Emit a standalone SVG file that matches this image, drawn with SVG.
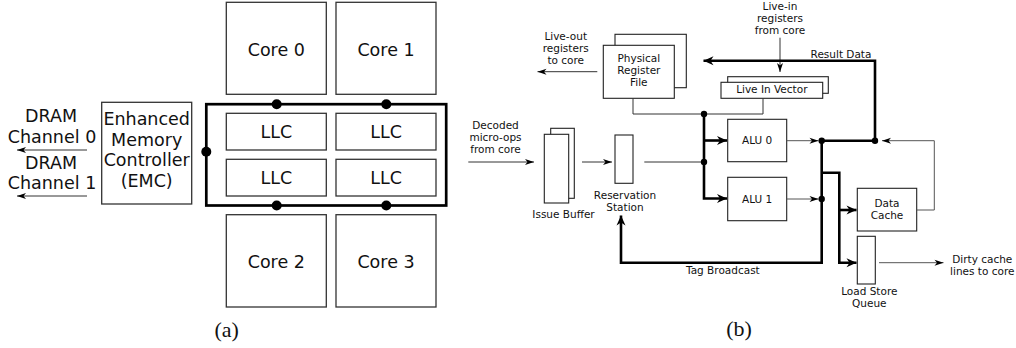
<svg xmlns="http://www.w3.org/2000/svg" width="1016" height="348" viewBox="0 0 1016 348">
<style>
  .box{fill:#fff;stroke:#333;stroke-width:1.3}
  .bbox{fill:#fff;stroke:#222;stroke-width:1.1}
  .ta{font-family:"DejaVu Sans",Verdana,sans-serif;font-size:17.5px;fill:#111;text-anchor:middle}
  .tb{font-family:"DejaVu Sans",Verdana,sans-serif;font-size:10.5px;fill:#111;text-anchor:middle}
  .cap{font-family:"Liberation Serif","Times New Roman",serif;font-size:22px;fill:#111;text-anchor:middle}
  .thin{fill:none;stroke:#333;stroke-width:1}
  .gray{fill:none;stroke:#555;stroke-width:1}
  .thick{fill:none;stroke:#000;stroke-width:2.6}
  .ring{fill:none;stroke:#000;stroke-width:2.7}
  .dot{fill:#000}
</style>
<defs>
  <marker id="ah" markerUnits="userSpaceOnUse" markerWidth="12" markerHeight="8" viewBox="-10 -4 11 8" refX="0" refY="0" orient="auto">
    <path d="M0,0 L-9,-3 L-6.5,0 L-9,3 Z" fill="#000"/>
  </marker>
  <marker id="ahk" markerUnits="userSpaceOnUse" markerWidth="13" markerHeight="10" viewBox="-11 -5 12 10" refX="0" refY="0" orient="auto">
    <path d="M0,0 L-10,-4.5 L-7,0 L-10,4.5 Z" fill="#000"/>
  </marker>
</defs>
<rect width="1016" height="348" fill="#fff"/>

<!-- (a) -->
<g id="core0"><rect class="box" x="226.3" y="2.3" width="100" height="92"/><text class="ta" x="276.3" y="56">Core 0</text></g>
<g id="core1"><rect class="box" x="336" y="2.3" width="100" height="92"/><text class="ta" x="386" y="56">Core 1</text></g>
<g id="llc00"><rect class="box" x="226.3" y="113.3" width="100" height="36.7"/><text class="ta" x="276.3" y="138">LLC</text></g>
<g id="llc01"><rect class="box" x="336" y="113.3" width="100" height="36.7"/><text class="ta" x="386" y="138">LLC</text></g>
<g id="llc10"><rect class="box" x="226.3" y="159.3" width="100" height="36.7"/><text class="ta" x="276.3" y="184">LLC</text></g>
<g id="llc11"><rect class="box" x="336" y="159.3" width="100" height="36.7"/><text class="ta" x="386" y="184">LLC</text></g>
<g id="core2"><rect class="box" x="226.3" y="214.7" width="100" height="92.3"/><text class="ta" x="276.3" y="268">Core 2</text></g>
<g id="core3"><rect class="box" x="336" y="214.7" width="100" height="92.3"/><text class="ta" x="386" y="268">Core 3</text></g>
<g id="emc"><rect class="box" x="101.7" y="102.3" width="90" height="101.7"/>
  <text class="ta" x="146.7" y="125">Enhanced</text>
  <text class="ta" x="146.7" y="145.5">Memory</text>
  <text class="ta" x="146.7" y="166">Controller</text>
  <text class="ta" x="146.7" y="186.5">(EMC)</text>
</g>
<g id="dram0"><text class="ta" x="51" y="122">DRAM</text><text class="ta" x="52" y="142.7">Channel 0</text></g>
<g id="dram1"><text class="ta" x="51" y="169">DRAM</text><text class="ta" x="52" y="189">Channel 1</text></g>
<g id="ring">
  <rect class="ring" x="206.3" y="104.2" width="239.9" height="101.3"/>
  <circle class="dot" cx="276.7" cy="104.2" r="5"/>
  <circle class="dot" cx="386.3" cy="104.2" r="5"/>
  <circle class="dot" cx="276.7" cy="205.5" r="5"/>
  <circle class="dot" cx="386.3" cy="205.5" r="5"/>
  <circle class="dot" cx="206.3" cy="151.7" r="5"/>
</g>
<g id="connectors-a">
  <path class="thin" d="M87,150 H17" marker-end="url(#ah)"/>
  <path class="thin" d="M87,196 H17" marker-end="url(#ah)"/>
</g>
<text class="cap" x="226.7" y="337">(a)</text>

<!-- (b) -->
<g id="prf">
  <rect class="bbox" x="615" y="34.3" width="71.3" height="53.4"/>
  <rect class="bbox" x="603.3" y="45.3" width="71" height="53"/>
  <text class="tb" x="638.8" y="61.7">Physical</text>
  <text class="tb" x="638.8" y="73.7">Register</text>
  <text class="tb" x="638.8" y="85.5">File</text>
</g>
<g id="liv">
  <rect class="bbox" x="727.7" y="76.7" width="100.6" height="16.6"/>
  <rect class="bbox" x="721" y="82.3" width="101.7" height="16"/>
  <text class="tb" x="771.8" y="92.7">Live In Vector</text>
</g>
<g id="ib">
  <rect class="bbox" x="550.7" y="128.3" width="23.6" height="70"/>
  <rect class="bbox" x="544.3" y="134.3" width="24.4" height="68.7"/>
  <text class="tb" x="563.5" y="218">Issue Buffer</text>
</g>
<g id="rs">
  <rect class="bbox" x="615" y="135" width="18" height="48.3"/>
  <text class="tb" x="625" y="198.7">Reservation</text>
  <text class="tb" x="625" y="210.7">Station</text>
</g>
<g id="alu0"><rect class="bbox" x="727.7" y="119.3" width="59" height="42.4"/><text class="tb" x="757.2" y="144">ALU 0</text></g>
<g id="alu1"><rect class="bbox" x="727.7" y="177.3" width="59" height="43.4"/><text class="tb" x="757.2" y="203">ALU 1</text></g>
<g id="dc"><rect class="bbox" x="857.3" y="188.3" width="59.4" height="42.7"/>
  <text class="tb" x="887" y="207">Data</text><text class="tb" x="887" y="219">Cache</text></g>
<g id="lsq"><rect class="bbox" x="857.3" y="236.3" width="18" height="47.7"/>
  <text class="tb" x="869.3" y="295">Load Store</text><text class="tb" x="869.3" y="307">Queue</text></g>
<g id="labels-b">
  <text class="tb" x="565.7" y="39.5">Live-out</text>
  <text class="tb" x="565.7" y="51.5">registers</text>
  <text class="tb" x="565.7" y="63.5">to core</text>
  <text class="tb" x="780" y="10">Live-in</text>
  <text class="tb" x="780" y="22">registers</text>
  <text class="tb" x="780" y="34">from core</text>
  <text class="tb" x="841" y="57.7">Result Data</text>
  <text class="tb" x="495.5" y="129.3">Decoded</text>
  <text class="tb" x="495.5" y="141.3">micro-ops</text>
  <text class="tb" x="495.5" y="153.3">from core</text>
  <text class="tb" x="686" y="273.7" style="text-anchor:start">Tag Broadcast</text>
  <text class="tb" x="982.3" y="263">Dirty cache</text>
  <text class="tb" x="982.3" y="275">lines to core</text>
</g>
<g id="connectors-b">
  <path class="thin" d="M597.3,71.7 H537.5" marker-end="url(#ah)"/>
  <path class="thin" d="M780,37.7 V72" marker-end="url(#ah)"/>
  <path class="thin" d="M468.3,162 H534" marker-end="url(#ah)"/>
  <path class="thin" d="M582,162 H612" marker-end="url(#ah)"/>
  <path class="thin" d="M644.3,162 H704"/>
  <path class="thin" d="M633,98.3 V114 H704"/>
  <path class="thin" d="M763,98.3 V114 H704"/>
  <path class="thick" d="M704,114 V198.5 H727" marker-end="url(#ahk)"/>
  <path class="thick" d="M704,140.5 H727" marker-end="url(#ahk)"/>
  <path class="gray" d="M786.7,140.7 H818.5" marker-end="url(#ah)"/>
  <path class="gray" d="M786.7,199 H818.5" marker-end="url(#ah)"/>
  <path class="thick" d="M821.7,140.7 H875"/>
  <path class="thick" d="M875,140.7 V60.7 H703.5" marker-end="url(#ahk)"/>
  <path class="gray" d="M916.7,210 H934.3 V140.7 H882" marker-end="url(#ah)"/>
  <path class="thick" d="M821.7,140.7 V262.7 H621 V215.5" marker-end="url(#ahk)"/>
  <path class="thick" d="M821.7,172.7 H839.3 V262.7 H856.5" marker-end="url(#ahk)"/>
  <path class="thick" d="M839.3,210 H856.5" marker-end="url(#ahk)"/>
  <path class="gray" d="M879,262.7 H943.5" marker-end="url(#ah)"/>
  <circle class="dot" cx="704" cy="114" r="3.2"/>
  <circle class="dot" cx="704" cy="162" r="3.2"/>
  <circle class="dot" cx="821.7" cy="140.7" r="3.2"/>
  <circle class="dot" cx="821.7" cy="199" r="3.2"/>
  <circle class="dot" cx="875" cy="140.7" r="3.2"/>
</g>
<text class="cap" x="739" y="336">(b)</text>
</svg>
